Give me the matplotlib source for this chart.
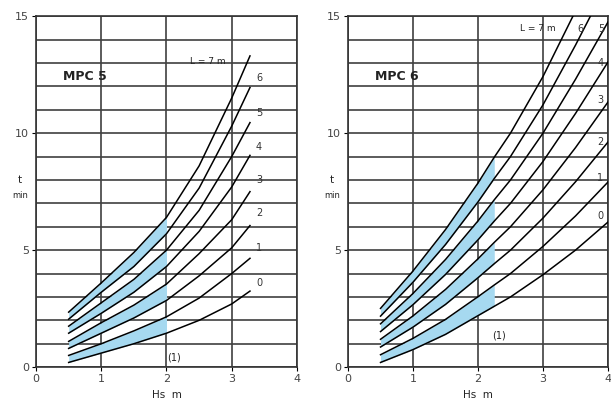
import numpy as np
import matplotlib.pyplot as plt

# =========================
# DATA
# =========================

curve_names = ["0", "1", "2", "3", "4", "5", "6", "7"]

# MPC 5 : t (min) against Hs (m) for each hose length L
hs_mpc5 = [0.5, 1.0, 1.5, 2.0, 2.5, 3.0, 3.28]
t_mpc5 = [
    [0.2, 0.6, 1.0, 1.45, 2.0, 2.7, 3.25],
    [0.5, 1.0, 1.55, 2.15, 2.95, 4.0, 4.65],
    [0.8, 1.45, 2.1, 2.85, 3.9, 5.1, 6.05],
    [1.1, 1.9, 2.65, 3.55, 4.85, 6.3, 7.5],
    [1.45, 2.3, 3.2, 4.3, 5.8, 7.7, 9.05],
    [1.75, 2.75, 3.75, 5.0, 6.7, 9.0, 10.45],
    [2.05, 3.2, 4.3, 5.7, 7.65, 10.3, 11.95],
    [2.35, 3.6, 4.9, 6.4, 8.6, 11.5, 13.3],
]

# MPC 6
hs_mpc6 = [0.5, 1.0, 1.5, 2.0, 2.25, 2.5, 3.0, 3.5, 4.0]
t_mpc6 = [
    [0.2, 0.75, 1.4, 2.2, 2.6, 3.0, 3.95, 5.0, 6.2],
    [0.53, 1.23, 2.04, 3.01, 3.51, 4.0, 5.16, 6.46, 7.91],
    [0.86, 1.71, 2.68, 3.82, 4.42, 5.0, 6.37, 7.92, 9.62],
    [1.19, 2.19, 3.32, 4.63, 5.33, 6.0, 7.58, 9.38, 11.33],
    [1.52, 2.67, 3.96, 5.44, 6.24, 7.0, 8.79, 10.84, 13.04],
    [1.85, 3.15, 4.6, 6.25, 7.15, 8.0, 10.0, 12.3, 14.75],
    [2.18, 3.63, 5.24, 7.06, 8.06, 9.0, 11.21, 13.76, 16.46],
    [2.51, 4.11, 5.88, 7.87, 8.97, 10.0, 12.42, 15.22, 18.17],
]

# shaded bands (pairs of curves) and where they stop
bands = [(0, 1), (2, 3), (4, 5), (6, 7)]
fill_end_mpc5 = 2.0
fill_end_mpc6 = 2.25

# curve label positions (x, y)
labels_mpc5 = [(3.42, 3.6), (3.42, 5.1), (3.42, 6.6), (3.42, 8.0),
               (3.42, 9.4), (3.42, 10.85), (3.42, 12.35)]
labels_mpc6 = [(3.88, 6.45), (3.88, 8.1), (3.88, 9.6), (3.88, 11.4),
               (3.88, 13.0), (3.9, 14.45), (3.58, 14.45)]

x_ticks = [0, 1, 2, 3, 4]
y_ticks = [0, 5, 10, 15]

BLUE = "#a6d9f0"
GRID = "#404040"


def draw_panel(ax, hs, curves, fill_end, title, l_pos, labels, note_pos):
    hs = np.array(hs)
    curves = np.array(curves)

    mask = hs <= fill_end + 1e-9
    for lo, hi in bands:
        ax.fill_between(hs[mask], curves[lo][mask], curves[hi][mask],
                        color=BLUE, lw=0, zorder=2)

    for c in curves:
        ax.plot(hs, c, color="black", lw=1.1, zorder=3)

    ax.set_xlim(0, 4)
    ax.set_ylim(0, 15)
    ax.set_xticks(x_ticks)
    ax.set_yticks(y_ticks)
    ax.set_xticks(np.arange(0, 5, 1), minor=True)
    ax.set_yticks(np.arange(0, 16, 1), minor=True)
    ax.grid(which="both", color=GRID, lw=1.2, zorder=1)
    ax.tick_params(which="minor", length=0)
    ax.tick_params(which="major", length=3, labelsize=8,
                   labelcolor="#444444", pad=2)
    for s in ax.spines.values():
        s.set_color("#333333")
        s.set_linewidth(1.2)

    ax.text(0.42, 12.4, title, fontsize=9, fontweight="bold",
            color="#222222", va="center", zorder=4)
    ax.text(l_pos[0], l_pos[1], "L = 7 m", fontsize=6.5,
            color="#222222", va="center", zorder=4)
    for name, (lx, ly) in zip(curve_names, labels):
        ax.text(lx, ly, name, fontsize=7, color="#333333",
                ha="center", va="center", zorder=4)
    ax.text(note_pos[0], note_pos[1], "(1)", fontsize=7,
            color="#222222", ha="center", va="center", zorder=4)

    ax.text(-0.25, 8.0, "t", fontsize=7.5, ha="center", va="center",
            color="#222222", clip_on=False)
    ax.text(-0.25, 7.35, "min", fontsize=6, ha="center", va="center",
            color="#222222", clip_on=False)
    ax.set_xlabel("Hs  m", fontsize=7.5, color="#222222", labelpad=4)


# =========================
# FIGURE
# =========================

fig = plt.figure(figsize=(6.11, 4.03), dpi=100)

ax1 = fig.add_axes([0.059, 0.089, 0.427, 0.871])
ax2 = fig.add_axes([0.5696, 0.089, 0.4255, 0.871])

draw_panel(ax1, hs_mpc5, t_mpc5, fill_end_mpc5, "MPC 5",
           (2.36, 13.05), labels_mpc5, (2.12, 0.4))
draw_panel(ax2, hs_mpc6, t_mpc6, fill_end_mpc6, "MPC 6",
           (2.65, 14.45), labels_mpc6, (2.33, 1.35))

fig.savefig("out.png", dpi=100)
plt.close(fig)
